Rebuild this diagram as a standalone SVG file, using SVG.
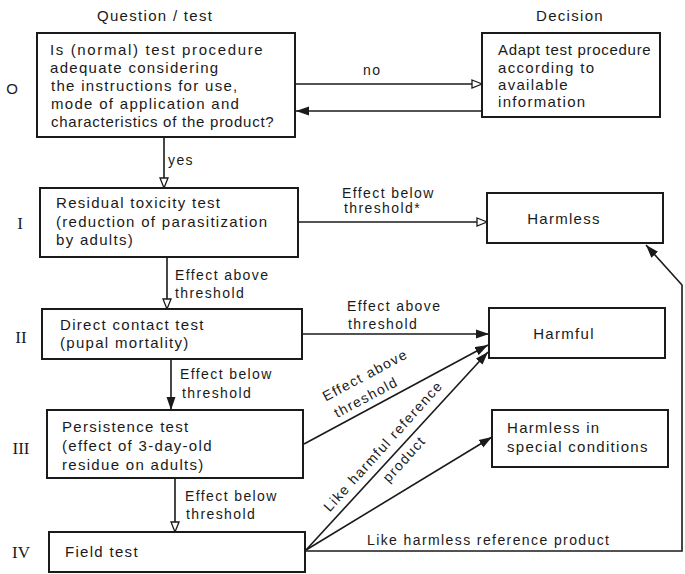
<svg xmlns="http://www.w3.org/2000/svg" width="685" height="574" viewBox="0 0 685 574">
<style>
.box{fill:#fff;stroke:#1a1a1a;stroke-width:2}
.t{font-family:"Liberation Sans",Arial,sans-serif;font-size:15px;letter-spacing:1.3px;fill:#1a1a1a}
.l{font-family:"Liberation Sans",Arial,sans-serif;font-size:14px;letter-spacing:1.4px;fill:#1a1a1a}
.r{font-family:"Liberation Serif","Times New Roman",serif;font-size:17px;fill:#1a1a1a;text-anchor:middle}
.c{fill:none;stroke:#1a1a1a;stroke-width:1.6}
.o{marker-end:url(#open)}
.s{marker-end:url(#solid)}
</style>
<defs>
<marker id="open" viewBox="0 0 12 10" refX="11" refY="5" markerWidth="12" markerHeight="10" markerUnits="userSpaceOnUse" orient="auto">
<path d="M1,1 L11,5 L1,9 Z" fill="#fff" stroke="#1a1a1a" stroke-width="1.3"/>
</marker>
<marker id="solid" viewBox="0 0 14 10" refX="13" refY="5" markerWidth="14" markerHeight="10" markerUnits="userSpaceOnUse" orient="auto">
<path d="M0,0.5 L13,5 L0,9.5 Z" fill="#1a1a1a"/>
</marker>
</defs>
<rect width="685" height="574" fill="#fff"/>

<text class="t" x="97" y="21">Question / test</text>
<text class="t" x="570" y="21" text-anchor="middle">Decision</text>

<text class="r" x="12" y="94" style="font-family:'Liberation Sans',sans-serif;font-size:15px">O</text>
<text class="r" x="20" y="229">I</text>
<text class="r" x="21" y="343">II</text>
<text class="r" x="21" y="454">III</text>
<text class="r" x="21" y="558">IV</text>

<g id="connectors">
<line class="c o" x1="295" y1="84" x2="482" y2="84"/>
<line class="c s" x1="482" y1="111" x2="296" y2="111"/>
<line class="c o" x1="164" y1="137" x2="164" y2="188"/>
<line class="c o" x1="167" y1="257" x2="167" y2="309"/>
<line class="c s" x1="171" y1="359" x2="171" y2="410"/>
<line class="c o" x1="175" y1="478" x2="175" y2="532"/>
<line class="c o" x1="298" y1="222" x2="487" y2="222"/>
<line class="c s" x1="302" y1="334" x2="489" y2="334"/>
<line class="c s" x1="304" y1="444" x2="488" y2="345"/>
<line class="c s" x1="306" y1="550" x2="488" y2="352"/>
<line class="c s" x1="306" y1="550" x2="492" y2="437"/>
<polyline class="c s" points="306,551 682,551 682,285 646,245"/>
<text class="l" x="363" y="75">no</text>
<text class="l" x="168" y="165">yes</text>
<text class="l" x="175" y="280">Effect above</text>
<text class="l" x="175" y="298">threshold</text>
<text class="l" x="180" y="379">Effect below</text>
<text class="l" x="182" y="398">threshold</text>
<text class="l" x="185" y="501">Effect below</text>
<text class="l" x="186" y="519">threshold</text>
<text class="l" x="342" y="198">Effect below</text>
<text class="l" x="344" y="213">threshold*</text>
<text class="l" x="347" y="311">Effect above</text>
<text class="l" x="348" y="329">threshold</text>
<text class="l" text-anchor="middle" transform="translate(365,375) rotate(-28)" y="5">Effect above</text>
<text class="l" text-anchor="middle" transform="translate(366,397) rotate(-28)" y="5">threshold</text>
<text class="l" text-anchor="middle" transform="translate(383,446) rotate(-48)" y="5">Like harmful reference</text>
<text class="l" text-anchor="middle" transform="translate(404,459) rotate(-48)" y="5">product</text>
<text class="l" x="367" y="545">Like harmless reference product</text>
</g>

<g id="q0">
<rect class="box" x="37" y="33" width="258" height="104"/>
<text class="t" x="50" y="55" textLength="214" lengthAdjust="spacing">Is (normal) test procedure</text>
<text class="t" x="50" y="73">adequate considering</text>
<text class="t" x="51" y="91">the instructions for use,</text>
<text class="t" x="51" y="109">mode of application and</text>
<text class="t" x="51" y="127" textLength="224" lengthAdjust="spacing">characteristics of the product?</text>
</g>
<g id="adapt">
<rect class="box" x="482" y="33" width="178" height="84"/>
<text class="t" x="498" y="55" textLength="154" lengthAdjust="spacing">Adapt test procedure</text>
<text class="t" x="498" y="73">according to</text>
<text class="t" x="498" y="90">available</text>
<text class="t" x="498" y="107">information</text>
</g>
<g id="q1">
<rect class="box" x="40" y="188" width="258" height="69"/>
<text class="t" x="56" y="208">Residual toxicity test</text>
<text class="t" x="56" y="227">(reduction of parasitization</text>
<text class="t" x="56" y="245">by adults)</text>
</g>
<g id="q2">
<rect class="box" x="42" y="309" width="260" height="50"/>
<text class="t" x="60" y="330">Direct contact test</text>
<text class="t" x="60" y="348">(pupal mortality)</text>
</g>
<g id="q3">
<rect class="box" x="47" y="410" width="256" height="68"/>
<text class="t" x="62" y="432">Persistence test</text>
<text class="t" x="62" y="451">(effect of 3-day-old</text>
<text class="t" x="62" y="470">residue on adults)</text>
</g>
<g id="q4">
<rect class="box" x="49" y="532" width="256" height="40"/>
<text class="t" x="65" y="557">Field test</text>
</g>
<g id="harmless">
<rect class="box" x="487" y="193" width="176" height="50"/>
<text class="t" x="564" y="224" text-anchor="middle">Harmless</text>
</g>
<g id="harmful">
<rect class="box" x="489" y="308" width="176" height="50"/>
<text class="t" x="564" y="339" text-anchor="middle">Harmful</text>
</g>
<g id="special">
<rect class="box" x="492" y="410" width="176" height="57"/>
<text class="t" x="507" y="433">Harmless in</text>
<text class="t" x="507" y="452">special conditions</text>
</g>
</svg>
